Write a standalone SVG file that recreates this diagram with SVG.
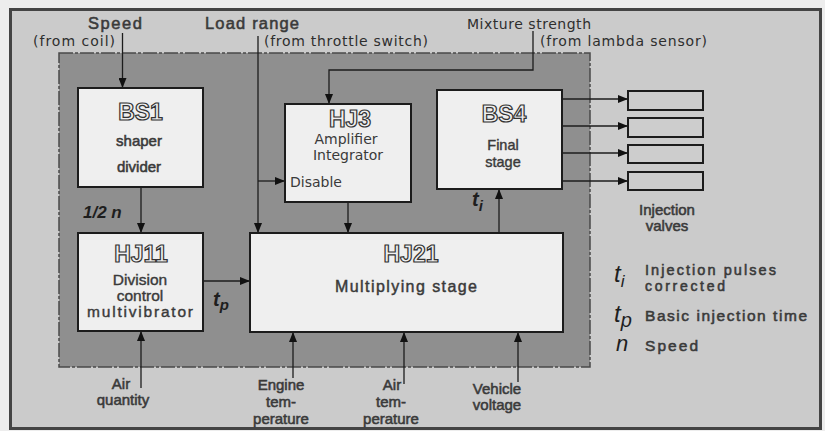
<svg xmlns="http://www.w3.org/2000/svg" width="825" height="431" viewBox="0 0 825 431">
<defs>
<marker id="ah" viewBox="0 0 10 8" refX="10" refY="4" markerWidth="10" markerHeight="8" markerUnits="userSpaceOnUse" orient="auto">
<path d="M0,0 L10,4 L0,8 Z" fill="#111"/>
</marker>
<style>
.box{fill:#efefef;stroke:#1c1c1c;stroke-width:2}
.valve{fill:#cdcdcd;stroke:#1c1c1c;stroke-width:2}
.ar{fill:none;stroke:#1c1c1c;stroke-width:1.3;marker-end:url(#ah)}
.t{font-family:"DejaVu Sans","Liberation Sans",sans-serif;font-size:14px;fill:#2e2e2e}
.md{font-family:"Liberation Sans","DejaVu Sans",sans-serif;font-size:15px;fill:#3a3a3a;stroke:#3a3a3a;stroke-width:0.55}
.mdc{font-family:"Liberation Sans","DejaVu Sans",sans-serif;font-size:15px;fill:#3a3a3a;stroke:#3a3a3a;stroke-width:0.55;text-anchor:middle}
.tn{font-family:"DejaVu Sans","Liberation Sans",sans-serif;font-size:14px;fill:#3a3a3a;text-anchor:middle}
.hol{font-family:"Liberation Sans","DejaVu Sans",sans-serif;font-size:23px;font-weight:bold;fill:#efefef;stroke:#333;stroke-width:1.2;text-anchor:middle}
.it{font-family:"Liberation Sans","DejaVu Sans",sans-serif;font-style:italic;fill:#1e1e1e}
</style>
</defs>
<rect x="0" y="0" width="825" height="431" fill="#ededed"/>
<rect x="10.5" y="9.5" width="810" height="419" fill="#cbcbcb" stroke="#444" stroke-width="3"/>
<rect x="59" y="53" width="531" height="314" fill="#8f8f8f" stroke="#4a4a4a" stroke-width="1.5" stroke-dasharray="14 2 3 2"/>

<g id="labels-top">
<text class="md" x="88" y="29" style="font-size:16.5px" textLength="54" lengthAdjust="spacing">Speed</text>
<text class="t" x="33" y="46" textLength="82" lengthAdjust="spacing">(from coil)</text>
<text class="md" x="205" y="29" style="font-size:16.5px" textLength="94" lengthAdjust="spacing">Load range</text>
<text class="t" x="264" y="46" textLength="164" lengthAdjust="spacing">(from throttle switch)</text>
<text class="t" x="467" y="29" textLength="124" lengthAdjust="spacing">Mixture strength</text>
<text class="t" x="540" y="46" textLength="167" lengthAdjust="spacing">(from lambda sensor)</text>
</g>

<g id="connectors">
<line class="ar" x1="122.5" y1="33" x2="122.5" y2="88"/>
<line class="ar" x1="258" y1="36" x2="258" y2="233"/>
<line class="ar" x1="258" y1="181" x2="285" y2="181"/>
<polyline class="ar" points="533,31 533,70 329,70 329,104"/>
<line class="ar" x1="348" y1="202" x2="348" y2="233"/>
<line class="ar" x1="141" y1="187" x2="141" y2="233"/>
<line class="ar" x1="203" y1="281" x2="250" y2="281"/>
<line class="ar" x1="499" y1="233" x2="499" y2="189"/>
<line class="ar" x1="562" y1="99" x2="628" y2="99"/>
<line class="ar" x1="562" y1="126" x2="628" y2="126"/>
<line class="ar" x1="562" y1="153" x2="628" y2="153"/>
<line class="ar" x1="562" y1="181" x2="628" y2="181"/>
<line class="ar" x1="141" y1="388" x2="141" y2="331"/>
<line class="ar" x1="293" y1="378" x2="293" y2="332"/>
<line class="ar" x1="404" y1="384" x2="404" y2="332"/>
<line class="ar" x1="518" y1="382" x2="518" y2="332"/>
</g>

<g id="BS1">
<rect class="box" x="78" y="88" width="125" height="99"/>
<text class="hol" x="140.5" y="120">BS1</text>
<text class="mdc" x="139" y="146">shaper</text>
<text class="mdc" x="139" y="172">divider</text>
</g>

<g id="HJ3">
<rect class="box" x="285" y="104" width="126" height="98"/>
<text class="hol" x="350" y="127">HJ3</text>
<text class="tn" x="346" y="144">Amplifier</text>
<text class="tn" x="348" y="160">Integrator</text>
<text class="t" x="290" y="187" style="fill:#3a3a3a">Disable</text>
</g>

<g id="BS4">
<rect class="box" x="437" y="90" width="125" height="99"/>
<text class="hol" x="504" y="122">BS4</text>
<text class="mdc" x="503" y="150" style="font-size:14.5px;stroke-width:0.4">Final</text>
<text class="mdc" x="503" y="167" style="font-size:14.5px;stroke-width:0.4">stage</text>
</g>

<g id="HJ11">
<rect class="box" x="78" y="233" width="125" height="98"/>
<text class="hol" x="141" y="262">HJ11</text>
<text class="mdc" x="140" y="285" style="font-size:15.5px;stroke-width:0.4">Division</text>
<text class="mdc" x="140" y="301" style="font-size:15.5px;stroke-width:0.4">control</text>
<text class="mdc" x="140" y="317" style="font-size:15.5px;stroke-width:0.4" textLength="106" lengthAdjust="spacing">multivibrator</text>
</g>

<g id="HJ21">
<rect class="box" x="250" y="233" width="313" height="99"/>
<text class="hol" x="411" y="262">HJ21</text>
<text class="mdc" x="406" y="292" style="font-size:16px;stroke-width:0.45" textLength="142" lengthAdjust="spacing">Multiplying stage</text>
</g>

<g id="valves">
<rect class="valve" x="628" y="91" width="75" height="19"/>
<rect class="valve" x="628" y="118" width="75" height="19"/>
<rect class="valve" x="628" y="145" width="75" height="18"/>
<rect class="valve" x="628" y="172" width="75" height="18"/>
<text class="mdc" x="667" y="215">Injection</text>
<text class="mdc" x="667" y="231">valves</text>
</g>

<g id="signal-labels">
<text class="it" x="83" y="218" font-size="17" font-weight="bold">1/2 n</text>
<text class="it" x="472" y="206" font-size="20" font-weight="bold">t<tspan font-size="15" dy="5">i</tspan></text>
<text class="it" x="213" y="306" font-size="20" font-weight="bold">t<tspan font-size="15" dy="4">p</tspan></text>
</g>

<g id="inputs-bottom">
<text class="mdc" x="121" y="389">Air</text>
<text class="mdc" x="123" y="405">quantity</text>
<text class="mdc" x="281" y="390">Engine</text>
<text class="mdc" x="281" y="407">tem-</text>
<text class="mdc" x="281" y="424">perature</text>
<text class="mdc" x="392" y="390">Air</text>
<text class="mdc" x="391" y="407">tem-</text>
<text class="mdc" x="391" y="424">perature</text>
<text class="mdc" x="497" y="394">Vehicle</text>
<text class="mdc" x="497" y="410">voltage</text>
</g>

<g id="legend">
<text class="it" x="614" y="282" font-size="24">t<tspan font-size="17" dy="5">i</tspan></text>
<text class="md" x="645" y="275" style="font-size:14.5px" textLength="131" lengthAdjust="spacing">Injection pulses</text>
<text class="md" x="645" y="291" style="font-size:14px" textLength="80" lengthAdjust="spacing">corrected</text>
<text class="it" x="614" y="322" font-size="24">t<tspan font-size="20" dy="5">p</tspan></text>
<text class="md" x="645" y="321" style="font-size:15.5px" textLength="162" lengthAdjust="spacing">Basic injection time</text>
<text class="it" x="616" y="351" font-size="22">n</text>
<text class="md" x="645" y="351" style="font-size:15.5px" textLength="53" lengthAdjust="spacing">Speed</text>
</g>
</svg>
